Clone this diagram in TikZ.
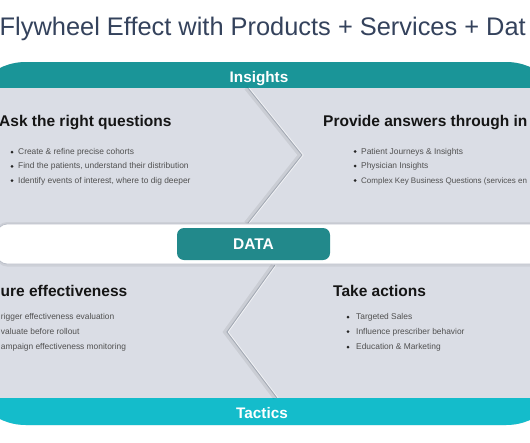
\documentclass[tikz,border=0pt]{standalone}
\usepackage{fontspec}
\setmainfont{Liberation Sans}
\definecolor{teal1}{HTML}{1A9598}
\definecolor{panel}{HTML}{DADDE5}
\definecolor{cyan1}{HTML}{14BCCB}
\definecolor{datac}{HTML}{22898B}
\definecolor{titlec}{HTML}{34425C}
\definecolor{headc}{HTML}{151515}
\definecolor{itemc}{HTML}{505050}
\definecolor{chevc}{HTML}{A4AAB5}
\definecolor{bandc}{HTML}{BCC0CA}
\begin{document}
\begin{tikzpicture}[x=1pt,y=-1pt,
  txt/.style={inner sep=0pt, anchor=base west},
  head/.style={txt, font=\fontsize{15.5}{18}\selectfont\bfseries, text=headc},
  item/.style={txt, font=\fontsize{8.4}{10}\selectfont, text=itemc},
  bandtxt/.style={font=\fontsize{15.3}{18}\selectfont\bfseries, text=white, inner sep=0pt, anchor=base},
  dot/.style={circle, fill=black!85, inner sep=0pt, minimum size=3pt},
  chev/.style={draw=chevc, line width=1pt, line join=miter},
  chevshadow/.style={draw=black, opacity=0.07, line width=4pt, line join=miter},
  chevlight/.style={draw=white, opacity=0.7, line width=0.7pt, line join=miter}]
\useasboundingbox (0,0) rectangle (530,442);
\begin{scope}
\clip (0,0) rectangle (530,442);
\fill[white] (0,0) rectangle (530,442);
% outer shape
\begin{scope}
\clip[rounded corners=60pt] (-34,62) rectangle (566,425);
\fill[panel] (-40,55) rectangle (570,430);
\fill[teal1] (-40,55) rectangle (570,88);
\fill[cyan1] (-40,398) rectangle (570,430);
\end{scope}
% chevrons
\coordinate (t1) at (248,88);
\coordinate (t2) at (302,155);
\coordinate (t3) at (248,223);
\coordinate (b1) at (275,265);
\coordinate (b2) at (227,332);
\coordinate (b3) at (277,398);
\draw[chevshadow] ([xshift=-2pt]t1) -- ([xshift=-2pt]t2) -- ([xshift=-2pt]t3);
\draw[chev] (t1) -- (t2) -- (t3);
\draw[chevlight] ([xshift=1.2pt]t1) -- ([xshift=1.2pt]t2) -- ([xshift=1.2pt]t3);
\draw[chevshadow] ([xshift=-2pt]b1) -- ([xshift=-2pt]b2) -- ([xshift=-2pt]b3);
\draw[chev] (b1) -- (b2) -- (b3);
\draw[chevlight] ([xshift=1.2pt]b1) -- ([xshift=1.2pt]b2) -- ([xshift=1.2pt]b3);
% middle band
\fill[black, opacity=0.06, rounded corners=11pt] (-4,222) rectangle (580,266.5);
\draw[draw=bandc, fill=white, line width=0.8pt, rounded corners=10pt] (-3,224) rectangle (580,264);
\node[fill=datac, rounded corners=7pt, minimum width=153pt, minimum height=32pt, inner sep=0pt,
  font=\fontsize{15.5}{18}\selectfont\bfseries, text=white] (data) at (253.5,244) {DATA};
% band labels
\node[bandtxt] (ins) at (259,82) {Insights};
\node[bandtxt] (tac) at (262,418) {Tactics};
% title
\node[txt, font=\fontsize{25.4}{30}\selectfont, text=titlec] (title) at (-0.5,35) {Flywheel Effect with Products + Services + Dat};
% headings
\node[head] (h1) at (-1,126) {Ask the right questions};
\node[head] (h2) at (323,126) {Provide answers through in};
\node[head] (h3) at (0.5,296.5) {ure effectiveness};
\node[head] (h4) at (333,296.5) {Take actions};
% top-left items
\node[dot] (d11) at (12,152) {};
\node[dot] (d12) at (12,166.3) {};
\node[dot] (d13) at (12,180.5) {};
\node[item] (i11) at (18,154.5) {Create \& refine precise cohorts};
\node[item] (i12) at (18,168.8) {Find the patients, understand their distribution};
\node[item] (i13) at (18,183) {Identify events of interest, where to dig deeper};
% top-right items
\node[dot] (d21) at (355,151.5) {};
\node[dot] (d22) at (355,166) {};
\node[dot] (d23) at (355,180.5) {};
\node[item] (i21) at (361,154) {Patient Journeys \& Insights};
\node[item] (i22) at (361,168.5) {Physician Insights};
\node[item, font=\fontsize{8.0}{10}\selectfont] (i23) at (361,183) {Complex Key Business Questions (services en};
% bottom-left items
\node[item] (i31) at (0.8,319.5) {rigger effectiveness evaluation};
\node[item] (i32) at (0.8,334) {valuate before rollout};
\node[item] (i33) at (0.8,349.5) {ampaign effectiveness monitoring};
% bottom-right items
\node[dot] (d41) at (348,317) {};
\node[dot] (d42) at (348,331.5) {};
\node[dot] (d43) at (348,347) {};
\node[item] (i41) at (356,319.5) {Targeted Sales};
\node[item] (i42) at (356,334) {Influence prescriber behavior};
\node[item] (i43) at (356,349.5) {Education \& Marketing};
\end{scope}
\end{tikzpicture}
\end{document}
